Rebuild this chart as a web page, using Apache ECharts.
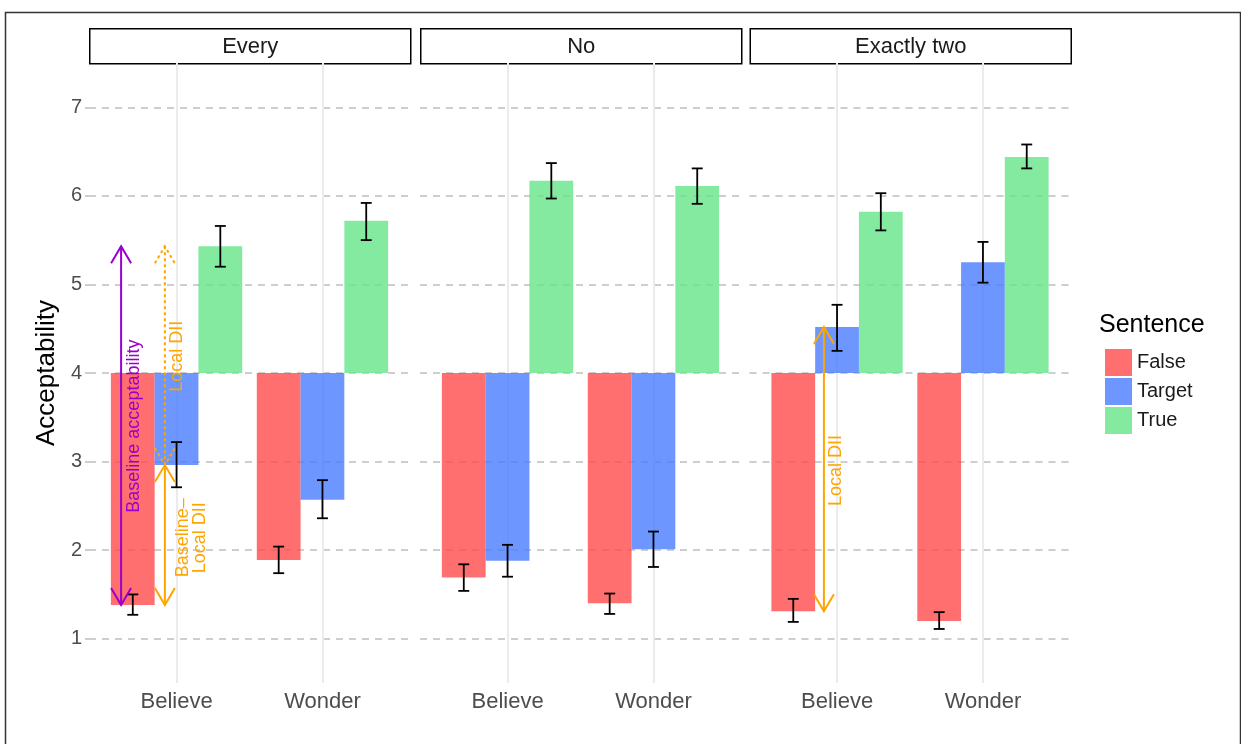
<!DOCTYPE html>
<html>
<head>
<meta charset="utf-8">
<script src="https://cdn.jsdelivr.net/npm/echarts@6/dist/echarts.min.js"></script>
<style>
  html, body { margin: 0; padding: 0; background: #fff; }
  #chart { width: 1241px; height: 744px; }
</style>
</head>
<body>
<div id="chart"></div>
<script>
// ---- data ----
const panels = ['Every', 'No', 'Exactly two'];
const verbs = ['Believe', 'Wonder'];
const sentences = ['False', 'Target', 'True'];
const baseline = 4;
const yTicks = [1, 2, 3, 4, 5, 6, 7];

// order: Every-Believe, Every-Wonder, No-Believe, No-Wonder, Exactly two-Believe, Exactly two-Wonder
const falseMean  = [1.38, 1.89, 1.69, 1.40, 1.31, 1.20];
const falseLow   = [1.27, 1.74, 1.54, 1.28, 1.19, 1.11];
const falseHigh  = [1.50, 2.04, 1.84, 1.51, 1.45, 1.30];

const targetMean = [2.96, 2.57, 1.88, 2.01, 4.52, 5.25];
const targetLow  = [2.71, 2.36, 1.70, 1.81, 4.25, 5.02];
const targetHigh = [3.22, 2.79, 2.06, 2.21, 4.77, 5.48];

const trueMean   = [5.43, 5.72, 6.17, 6.11, 5.82, 6.44];
const trueLow    = [5.20, 5.50, 5.97, 5.91, 5.61, 6.31];
const trueHigh   = [5.66, 5.92, 6.37, 6.31, 6.03, 6.58];

const means = { False: falseMean, Target: targetMean, True: trueMean };
const lows  = { False: falseLow,  Target: targetLow,  True: trueLow };
const highs = { False: falseHigh, Target: targetHigh, True: trueHigh };

// annotation arrows run between two bar means of one verb
const arrowSpecs = [
  { panel: 0, verb: 'Believe', from: 'True',   to: 'False'  },
  { panel: 0, verb: 'Believe', from: 'True',   to: 'Target' },
  { panel: 0, verb: 'Believe', from: 'Target', to: 'False'  },
  { panel: 2, verb: 'Believe', from: 'Target', to: 'False'  }
];
const noteTexts = ['Baseline acceptability', 'Local DII', 'Baseline–\nLocal DII', 'Local DII'];

// ---- presentation ----
const FONT = '"Liberation Sans", Arial, Helvetica, sans-serif';
const PURPLE = '#9A00CD';
const ORANGE = '#FFA500';
const barColors = {
  False:  'rgba(255,75,75,0.8)',
  Target: 'rgba(74,124,255,0.8)',
  True:   'rgba(101,229,136,0.8)'
};
const dodge = { False: -0.3, Target: 0, True: 0.3 };
const BAR_W = 0.3;
const CAP_W = 0.075;

const arrowStyle = [
  { x: 0.62, color: PURPLE, dashed: false },
  { x: 0.92, color: ORANGE, dashed: true },
  { x: 0.92, color: ORANGE, dashed: false },
  { x: 0.91, color: ORANGE, dashed: false }
];
const notePlace = [
  { panel: 0, x: 0.712, y: 3.40, color: PURPLE },
  { panel: 0, x: 1.003, y: 4.19, color: ORANGE },
  { panel: 0, x: 1.105, y: 2.14, color: ORANGE },
  { panel: 2, x: 0.996, y: 2.90, color: ORANGE }
];

const panelLeft = [89, 420, 749.5];
const panelWidth = 321;
const panelTop = 63;
const panelHeight = 620;

const grids = [], xAxes = [], yAxes = [], series = [];

panels.forEach((name, pi) => {
  grids.push({ left: panelLeft[pi], top: panelTop, width: panelWidth, height: panelHeight, containLabel: false });
  xAxes.push({
    type: 'value', gridIndex: pi, min: 0.4, max: 2.6,
    axisLine: { show: false }, axisTick: { show: false }, splitLine: { show: false },
    axisLabel: {
      customValues: [1, 2],
      formatter: v => verbs[Math.round(v) - 1] || '',
      color: '#4D4D4D', fontSize: 22, fontFamily: FONT, margin: 8
    }
  });
  yAxes.push({
    type: 'value', gridIndex: pi, min: 0.5, max: 7.5,
    axisLine: { show: false },
    splitLine: { show: false },
    axisTick: pi === 0 ? { show: true, customValues: yTicks, length: 4, lineStyle: { color: '#BEBEBE', width: 1.5 } } : { show: false },
    axisLabel: pi === 0 ? { show: true, customValues: yTicks, color: '#4D4D4D', fontSize: 20, fontFamily: FONT, margin: 7 } : { show: false },
    name: pi === 0 ? 'Acceptability' : '',
    nameLocation: 'middle', nameRotate: 90, nameGap: 29,
    nameTextStyle: { color: '#000', fontSize: 26, fontFamily: FONT }
  });

  // background grid lines, kept beneath the bars
  series.push({
    type: 'custom', name: 'grid' + pi, xAxisIndex: pi, yAxisIndex: pi, z: 1, silent: true,
    data: [], renderItem: () => null,
    markLine: {
      z: 1, silent: true, symbol: 'none', label: { show: false }, animation: false,
      data: [
        ...yTicks.map(t => ({ yAxis: t, lineStyle: { color: '#BEBEBE', width: 1.5, type: [7, 6] } })),
        ...verbs.map((v, vi) => ({ xAxis: vi + 1, lineStyle: { color: '#EBEBEB', width: 2, type: 'solid' } }))
      ]
    }
  });

  // bars with error bars
  sentences.forEach(s => {
    const data = verbs.map((v, vi) => {
      const k = pi * 2 + vi;
      return [vi + 1 + dodge[s], means[s][k], lows[s][k], highs[s][k]];
    });
    series.push({
      type: 'custom', name: s, xAxisIndex: pi, yAxisIndex: pi, z: 3,
      itemStyle: { color: barColors[s] },
      data: data,
      renderItem: (params, api) => {
        const x = api.value(0), v = api.value(1), lo = api.value(2), hi = api.value(3);
        const a = api.coord([x - BAR_W / 2, baseline]);
        const b = api.coord([x + BAR_W / 2, v]);
        const e0 = api.coord([x, lo]);
        const e1 = api.coord([x, hi]);
        const cap = api.size([CAP_W, 0])[0] / 2;
        const es = { stroke: '#000', lineWidth: 1.8 };
        return {
          type: 'group',
          children: [
            { type: 'rect', shape: { x: Math.min(a[0], b[0]), y: Math.min(a[1], b[1]), width: Math.abs(b[0] - a[0]), height: Math.abs(b[1] - a[1]) }, style: { fill: barColors[s] } },
            { type: 'line', z2: 10, shape: { x1: e0[0], y1: e0[1], x2: e1[0], y2: e1[1] }, style: es },
            { type: 'line', z2: 10, shape: { x1: e0[0] - cap, y1: e0[1], x2: e0[0] + cap, y2: e0[1] }, style: es },
            { type: 'line', z2: 10, shape: { x1: e1[0] - cap, y1: e1[1], x2: e1[0] + cap, y2: e1[1] }, style: es }
          ]
        };
      }
    });
  });

  // annotation arrows
  const arrowIdx = arrowSpecs.map((a, i) => i).filter(i => arrowSpecs[i].panel === pi);
  if (arrowIdx.length) {
    series.push({
      type: 'custom', name: 'arrows' + pi, xAxisIndex: pi, yAxisIndex: pi, z: 6, silent: true,
      data: arrowIdx.map(i => {
        const a = arrowSpecs[i];
        const k = pi * 2 + verbs.indexOf(a.verb);
        return [arrowStyle[i].x, means[a.from][k], means[a.to][k], i];
      }),
      renderItem: (params, api) => {
        const i = api.value(3);
        const st = arrowStyle[i];
        const p0 = api.coord([api.value(0), api.value(1)]);
        const p1 = api.coord([api.value(0), api.value(2)]);
        const top = p0[1] < p1[1] ? p0 : p1;
        const bot = p0[1] < p1[1] ? p1 : p0;
        const style = { stroke: st.color, lineWidth: 2, fill: null, lineDash: st.dashed ? [3, 3] : null };
        const L = 17, W = 10;
        return {
          type: 'group',
          children: [
            { type: 'line', shape: { x1: top[0], y1: top[1], x2: bot[0], y2: bot[1] }, style: style },
            { type: 'polyline', shape: { points: [[top[0] - W, top[1] + L], [top[0], top[1]], [top[0] + W, top[1] + L]] }, style: style },
            { type: 'polyline', shape: { points: [[bot[0] - W, bot[1] - L], [bot[0], bot[1]], [bot[0] + W, bot[1] - L]] }, style: style }
          ]
        };
      }
    });
  }

  // annotation texts
  const noteIdx = notePlace.map((n, i) => i).filter(i => notePlace[i].panel === pi);
  if (noteIdx.length) {
    series.push({
      type: 'custom', name: 'notes' + pi, xAxisIndex: pi, yAxisIndex: pi, z: 7, silent: true,
      data: noteIdx.map(i => [notePlace[i].x, notePlace[i].y, i]),
      renderItem: (params, api) => {
        const i = api.value(2);
        const p = api.coord([api.value(0), api.value(1)]);
        return {
          type: 'text', x: p[0], y: p[1], rotation: Math.PI / 2,
          style: {
            text: noteTexts[i], fill: notePlace[i].color,
            font: '18px ' + FONT, align: 'center', verticalAlign: 'middle', lineHeight: 17
          }
        };
      }
    });
  }
});

// facet strips, legend title, outer frame
const graphics = [
  { type: 'rect', left: 3, top: 10, shape: { x: 0, y: 0, width: 1235, height: 800 }, style: { fill: null, stroke: '#333', lineWidth: 1.5 }, silent: true }
];
panels.forEach((name, pi) => {
  graphics.push({
    type: 'group', left: panelLeft[pi], top: 28,
    children: [
      { type: 'rect', shape: { x: 0, y: 0, width: panelWidth, height: 35 }, style: { fill: '#fff', stroke: '#000', lineWidth: 1.5 } },
      { type: 'text', x: panelWidth / 2, y: 18, style: { text: name, font: '22px ' + FONT, fill: '#1A1A1A', align: 'center', verticalAlign: 'middle' } }
    ]
  });
});
graphics.push({ type: 'text', left: 1099, top: 313, style: { text: 'Sentence', font: '25px ' + FONT, fill: '#000' } });

const chart = echarts.init(document.getElementById('chart'), null, { renderer: 'canvas' });
chart.setOption({
  animation: false,
  backgroundColor: '#fff',
  grid: grids,
  xAxis: xAxes,
  yAxis: yAxes,
  legend: {
    data: sentences, orient: 'vertical', left: 1100, top: 344,
    itemWidth: 27, itemHeight: 27, itemGap: 2, icon: 'rect',
    textStyle: { fontSize: 20, color: '#1A1A1A', fontFamily: FONT },
    selectedMode: false
  },
  graphic: graphics,
  series: series
});
</script>
</body>
</html>
